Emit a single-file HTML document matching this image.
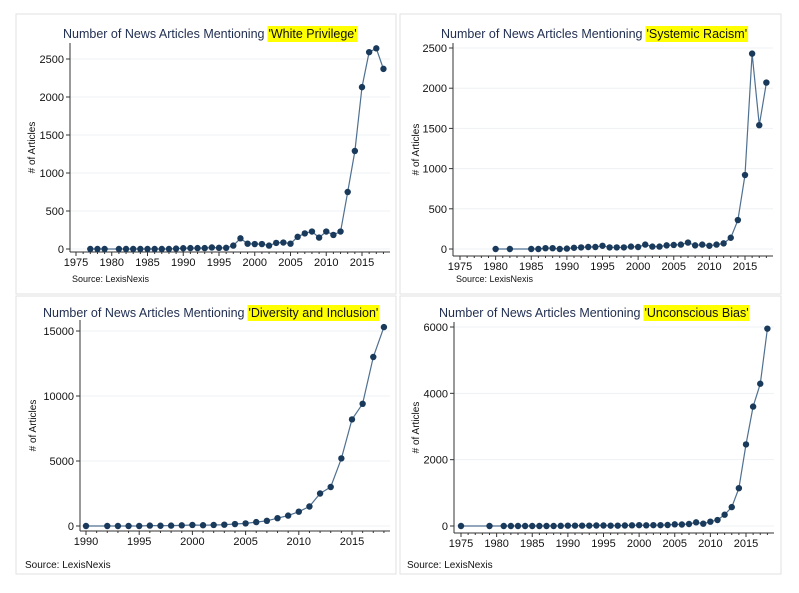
<!DOCTYPE html>
<html><head><meta charset="utf-8">
<style>
html,body{margin:0;padding:0;background:#fff;}
body{width:799px;height:593px;overflow:hidden;position:relative;font-family:"Liberation Sans",Arial,sans-serif;}
svg{position:absolute;left:0;top:0;}
</style></head>
<body>
<svg id="chart" width="799" height="593" viewBox="0 0 799 593" xmlns="http://www.w3.org/2000/svg">
  <rect x="16" y="14" width="380" height="280" fill="#fff" stroke="#e2e2e2"/>
  <rect x="400" y="14" width="381" height="280" fill="#fff" stroke="#e2e2e2"/>
  <rect x="16" y="296" width="380" height="278" fill="#fff" stroke="#e2e2e2"/>
  <rect x="400" y="296" width="381" height="278" fill="#fff" stroke="#e2e2e2"/>
</svg>
<script>
const wpYears=[1977,1978,1979,1981,1982,1983,1984,1985,1986,1987,1988,1989,1990,1991,1992,1993,1994,1995,1996,1997,1998,1999,2000,2001,2002,2003,2004,2005,2006,2007,2008,2009,2010,2011,2012,2013,2014,2015,2016,2017,2018];
const wpValues=[0,0,0,0,0,0,0,0,0,0,0,5,10,12,12,12,20,15,15,45,140,70,65,65,45,80,85,70,160,205,230,150,230,185,230,750,1290,2130,2590,2640,2370];
const srYears=[1980,1982,1985,1986,1987,1988,1989,1990,1991,1992,1993,1994,1995,1996,1997,1998,1999,2000,2001,2002,2003,2004,2005,2006,2007,2008,2009,2010,2011,2012,2013,2014,2015,2016,2017,2018];
const srValues=[0,0,0,0,10,10,0,5,15,20,25,25,40,20,20,20,30,25,55,30,30,45,50,55,80,45,55,40,55,70,140,360,920,2430,1540,2070];
const diYears=[1990,1992,1993,1994,1995,1996,1997,1998,1999,2000,2001,2002,2003,2004,2005,2006,2007,2008,2009,2010,2011,2012,2013,2014,2015,2016,2017,2018];
const diValues=[0,0,0,0,0,30,20,30,50,80,60,80,100,150,200,300,400,600,800,1100,1500,2500,3000,5200,8200,9400,13000,15300];
const ubYears=[1975,1979,1981,1982,1983,1984,1985,1986,1987,1988,1989,1990,1991,1992,1993,1994,1995,1996,1997,1998,1999,2000,2001,2002,2003,2004,2005,2006,2007,2008,2009,2010,2011,2012,2013,2014,2015,2016,2017,2018];
const ubValues=[0,0,0,0,0,0,0,0,0,0,5,10,10,10,10,15,15,10,10,15,20,25,20,25,25,30,50,45,60,110,70,130,180,340,570,1140,2460,3600,4290,5950];
const wpXTicks=[1975,1980,1985,1990,1995,2000,2005,2010,2015];
const wpYTicks=[0,500,1000,1500,2000,2500];
const srXTicks=[1975,1980,1985,1990,1995,2000,2005,2010,2015];
const srYTicks=[0,500,1000,1500,2000,2500];
const diXTicks=[1990,1995,2000,2005,2010,2015];
const diYTicks=[0,5000,10000,15000];
const ubXTicks=[1975,1980,1985,1990,1995,2000,2005,2010,2015];
const ubYTicks=[0,2000,4000,6000];

const NS="http://www.w3.org/2000/svg";
const svg=document.getElementById('chart');
function mk(tag,attrs,parent){const e=document.createElementNS(NS,tag);for(const k in attrs)e.setAttribute(k,attrs[k]);(parent||svg).appendChild(e);return e;}

function drawPanel(p){
  const g=mk('g',{});
  
  
  const xs=v=>p.x0+(v-p.xa)*(p.x1-p.x0)/(p.xb-p.xa);
  const ys=v=>p.y0+(v-p.ya)*(p.y1-p.y0)/(p.yb-p.ya);
  const t=mk('text',{x:p.tx,y:p.ty,'font-size':12.5,fill:'#1f2d4f'},g);
  
  
  t.textContent='Number of News Articles Mentioning';
  const tw=t.getComputedTextLength()+4;
  const hl=mk('rect',{x:p.tx+tw-1,y:p.ty-12,width:10,height:16,fill:'#ffff00'},g);
  
  
  const t2=mk('text',{x:p.tx+tw,y:p.ty,'font-size':12.5,fill:'#111'},g);
  
  
  t2.textContent=p.kw;
  hl.setAttribute('width',t2.getComputedTextLength()+2);
  p.yt.forEach(v=>{
    const y=ys(v);
    const gl=mk('line',{x1:p.axX,x2:p.xr,y1:y,y2:y,stroke:'#eef1f4','stroke-width':1},g);
    
    
    mk('line',{x1:p.axX-4,x2:p.axX,y1:y,y2:y,stroke:'#333'},g);
    const l=mk('text',{x:p.axX-6,y:y+4,'font-size':11,'text-anchor':'end',fill:'#111'},g);
    
    
    l.textContent=v;
  });
  const ya=mk('line',{x1:p.axX,x2:p.axX,y1:p.axTop,y2:p.axY,stroke:'#333','stroke-width':1},g);
  
  
  const xa=mk('line',{x1:p.axX,x2:p.xr,y1:p.axY,y2:p.axY,stroke:'#333','stroke-width':1},g);
  
  
  for(let yr=p.xt[0];yr<=2018;yr++){
    const major=p.xt.includes(yr);
    mk('line',{x1:xs(yr),x2:xs(yr),y1:p.axY,y2:p.axY+(major?4:2),stroke:'#333'},g);
  }
  p.xt.forEach(v=>{
    const l=mk('text',{x:xs(v),y:p.axY+14,'font-size':11,'text-anchor':'middle',fill:'#111'},g);
    
    
    l.textContent=v;
  });
  const yt=mk('text',{x:0,y:0,'font-size':10,'text-anchor':'middle',fill:'#111',transform:`translate(${p.ytX},${(p.axTop+p.axY)/2}) rotate(-90)`},g);
  
  
  yt.textContent='# of Articles';
  const src=mk('text',{x:p.sx,y:p.sy,'font-size':p.sf,fill:'#111'},g);
  
  
  src.textContent='Source: LexisNexis';
  const pts=p.years.map((yr,i)=>xs(yr).toFixed(1)+','+ys(p.vals[i]).toFixed(1)).join(' ');
  const pl=mk('polyline',{points:pts,fill:'none',stroke:'#4f7090','stroke-width':1.2},g);
  
  
  p.years.forEach((yr,i)=>{
    const c=mk('circle',{cx:xs(yr),cy:ys(p.vals[i]),r:3.2,fill:'#1a3a5c'},g);
    
    
  });
}

drawPanel({name:'chart-white-privilege',kw:"'White Privilege'",years:wpYears,vals:wpValues,xt:wpXTicks,yt:wpYTicks,
  xa:1975,xb:2015,x0:76,x1:362,ya:0,yb:2500,y0:249,y1:59,axX:70,axTop:43,axY:252,xr:390,
  tx:63,ty:38,ytX:35,sx:72,sy:282,sf:9});
drawPanel({name:'chart-systemic-racism',kw:"'Systemic Racism'",years:srYears,vals:srValues,xt:srXTicks,yt:srYTicks,
  xa:1975,xb:2015,x0:460,x1:745,ya:0,yb:2500,y0:249,y1:48,axX:453,axTop:43,axY:256,xr:773,
  tx:441,ty:38,ytX:419,sx:456,sy:282,sf:9});
drawPanel({name:'chart-diversity-inclusion',kw:"'Diversity and Inclusion'",years:diYears,vals:diValues,xt:diXTicks,yt:diYTicks,
  xa:1990,xb:2015,x0:86,x1:352,ya:0,yb:15000,y0:526,y1:331,axX:80,axTop:320,axY:531,xr:390,
  tx:43,ty:317,ytX:36,sx:25,sy:568,sf:10});
drawPanel({name:'chart-unconscious-bias',kw:"'Unconscious Bias'",years:ubYears,vals:ubValues,xt:ubXTicks,yt:ubYTicks,
  xa:1975,xb:2015,x0:461,x1:746,ya:0,yb:6000,y0:526,y1:327,axX:454,axTop:322,axY:533,xr:774,
  tx:439,ty:317,ytX:419,sx:407,sy:568,sf:10});
</script>
</body></html>
